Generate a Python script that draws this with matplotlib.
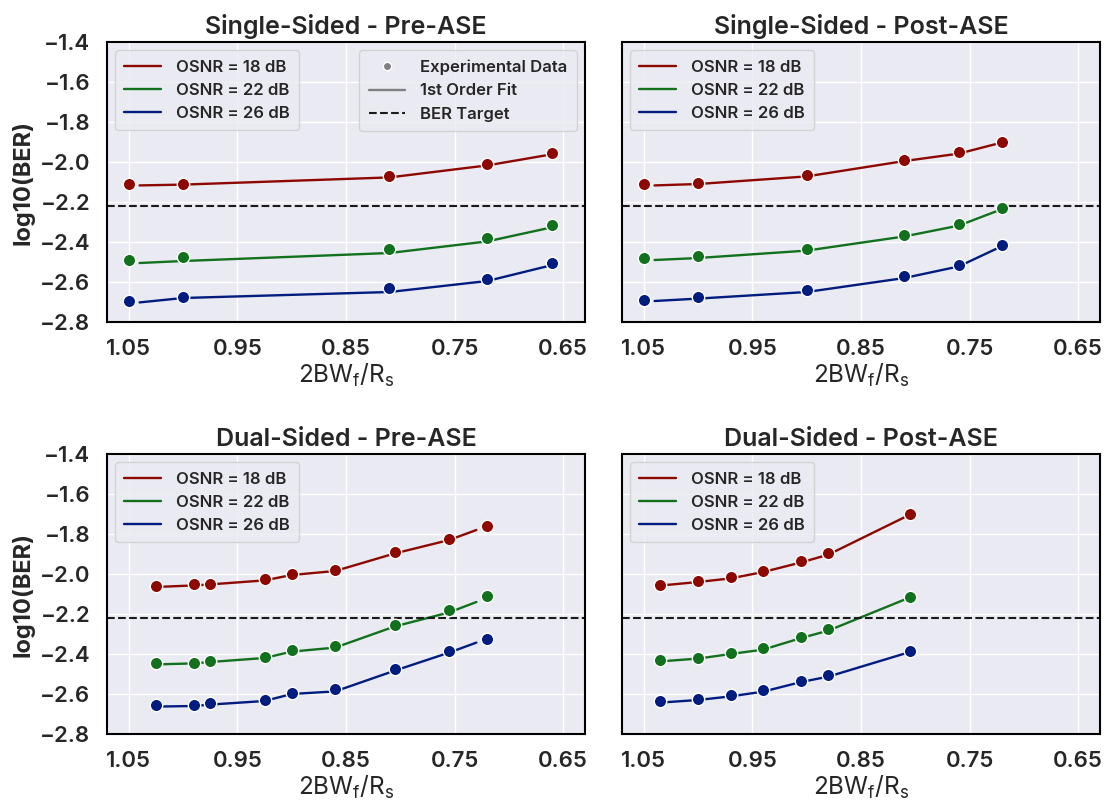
import matplotlib.pyplot as plt
from matplotlib.lines import Line2D
import seaborn as sns
import numpy as np

sns.set_theme(style='darkgrid')
plt.rcParams['font.family'] = ['Inter', 'DejaVu Sans']
plt.rcParams['font.weight'] = 'semibold'

# colours for the three OSNR values (seaborn "dark" palette)
colors = ['#8c0800', '#12711c', '#001c7f']
osnr_labels = ['OSNR = 18 dB', 'OSNR = 22 dB', 'OSNR = 26 dB']
ber_target = -2.222
xticks = [1.05, 0.95, 0.85, 0.75, 0.65]

# ---- Single-Sided - Pre-ASE
ss_pre_x = [1.05, 1.0, 0.81, 0.72, 0.66]
ss_pre_18 = [-2.108, -2.112, -2.072, -2.012, -1.954]
ss_pre_22 = [-2.492, -2.475, -2.437, -2.380, -2.314]
ss_pre_26 = [-2.697, -2.675, -2.628, -2.587, -2.507]
ss_pre_fit_x = [1.04, 1.0, 0.81, 0.72, 0.66]
ss_pre_fit_18 = [-2.117, -2.113, -2.077, -2.017, -1.961]
ss_pre_fit_22 = [-2.505, -2.495, -2.455, -2.397, -2.326]
ss_pre_fit_26 = [-2.702, -2.680, -2.650, -2.595, -2.515]

# ---- Single-Sided - Post-ASE
ss_post_x = [1.05, 1.0, 0.90, 0.81, 0.76, 0.72]
ss_post_18 = [-2.110, -2.103, -2.065, -1.988, -1.952, -1.900]
ss_post_22 = [-2.480, -2.472, -2.435, -2.363, -2.310, -2.232]
ss_post_26 = [-2.688, -2.675, -2.640, -2.572, -2.515, -2.417]
ss_post_fit_x = [1.04, 1.0, 0.90, 0.81, 0.76, 0.72]
ss_post_fit_18 = [-2.117, -2.110, -2.072, -1.995, -1.958, -1.902]
ss_post_fit_22 = [-2.490, -2.480, -2.443, -2.372, -2.318, -2.235]
ss_post_fit_26 = [-2.695, -2.683, -2.650, -2.580, -2.522, -2.420]

# ---- Dual-Sided - Pre-ASE
ds_pre_x = [1.025, 0.99, 0.975, 0.925, 0.90, 0.86, 0.805, 0.755, 0.72]
ds_pre_18 = [-2.060, -2.052, -2.048, -2.025, -1.998, -1.982, -1.890, -1.825, -1.762]
ds_pre_22 = [-2.445, -2.443, -2.433, -2.413, -2.378, -2.358, -2.253, -2.182, -2.108]
ds_pre_26 = [-2.655, -2.653, -2.645, -2.628, -2.593, -2.577, -2.477, -2.385, -2.325]
ds_pre_fit_x = [1.025, 0.99, 0.975, 0.925, 0.90, 0.86, 0.805, 0.755, 0.73]
ds_pre_fit_18 = [-2.065, -2.057, -2.052, -2.032, -2.005, -1.985, -1.897, -1.830, -1.780]
ds_pre_fit_22 = [-2.452, -2.447, -2.440, -2.420, -2.388, -2.368, -2.262, -2.192, -2.140]
ds_pre_fit_26 = [-2.663, -2.660, -2.653, -2.635, -2.600, -2.587, -2.483, -2.393, -2.343]

# ---- Dual-Sided - Post-ASE
ds_post_x = [1.035, 1.0, 0.97, 0.94, 0.905, 0.88, 0.805]
ds_post_18 = [-2.053, -2.035, -2.017, -1.983, -1.937, -1.897, -1.698]
ds_post_22 = [-2.430, -2.418, -2.395, -2.372, -2.313, -2.277, -2.113]
ds_post_26 = [-2.637, -2.623, -2.607, -2.582, -2.533, -2.507, -2.385]
ds_post_fit_x = [1.035, 1.0, 0.97, 0.94, 0.905, 0.88, 0.805]
ds_post_fit_18 = [-2.058, -2.040, -2.022, -1.990, -1.942, -1.903, -1.703]
ds_post_fit_22 = [-2.437, -2.423, -2.400, -2.378, -2.320, -2.283, -2.117]
ds_post_fit_26 = [-2.643, -2.630, -2.612, -2.588, -2.540, -2.513, -2.390]

panels = [
    ('Single-Sided - Pre-ASE', ss_pre_x, [ss_pre_18, ss_pre_22, ss_pre_26],
     ss_pre_fit_x, [ss_pre_fit_18, ss_pre_fit_22, ss_pre_fit_26]),
    ('Single-Sided - Post-ASE', ss_post_x, [ss_post_18, ss_post_22, ss_post_26],
     ss_post_fit_x, [ss_post_fit_18, ss_post_fit_22, ss_post_fit_26]),
    ('Dual-Sided - Pre-ASE', ds_pre_x, [ds_pre_18, ds_pre_22, ds_pre_26],
     ds_pre_fit_x, [ds_pre_fit_18, ds_pre_fit_22, ds_pre_fit_26]),
    ('Dual-Sided - Post-ASE', ds_post_x, [ds_post_18, ds_post_22, ds_post_26],
     ds_post_fit_x, [ds_post_fit_18, ds_post_fit_22, ds_post_fit_26]),
]

fig = plt.figure(figsize=(11.04, 8.02), dpi=100)
positions = [
    [0.0969, 0.5985, 0.4330, 0.3491],
    [0.5634, 0.5985, 0.4330, 0.3491],
    [0.0969, 0.0848, 0.4330, 0.3491],
    [0.5634, 0.0848, 0.4330, 0.3491],
]

for i, (title, x, ys, fx, fys) in enumerate(panels):
    ax = fig.add_axes(positions[i])
    handles = []
    for y, fy, c, lab in zip(ys, fys, colors, osnr_labels):
        h, = ax.plot(fx, fy, color=c, lw=1.7, label=lab, zorder=2)
        ax.scatter(x, y, s=80, color=c, edgecolor='white', linewidth=1, zorder=3)
        handles.append(h)
    ax.axhline(ber_target, color='k', ls='--', lw=1.5, zorder=2)

    ax.set_xlim(1.07, 0.63)
    ax.set_ylim(-2.8, -1.4)
    ax.set_xticks(xticks)
    ax.set_yticks(np.round(np.arange(-2.8, -1.39, 0.2), 1))
    ax.tick_params(labelsize=16, pad=6)
    for s in ax.spines.values():
        s.set_visible(True)
        s.set_color('black')
        s.set_linewidth(1.5)
    ax.set_title(title, fontsize=18, fontweight='semibold', pad=6)
    ax.set_xlabel(r'2BW$_\mathregular{f}$/R$_\mathregular{s}$', fontsize=17.5, labelpad=2)
    if i % 2 == 0:
        ax.set_ylabel('log10(BER)', fontsize=17, fontweight='bold', labelpad=4)
    else:
        ax.set_yticklabels([])

    leg1 = ax.legend(handles=handles, loc='upper left', fontsize=12, borderpad=0.55,
                     handlelength=2.2, handletextpad=0.9)
    if i == 0:
        extra = [
            Line2D([], [], color='grey', marker='o', ls='none', markersize=6,
                   markeredgecolor='white', label='Experimental Data'),
            Line2D([], [], color='grey', lw=1.7, label='1st Order Fit'),
            Line2D([], [], color='k', ls='--', lw=1.5, label='BER Target'),
        ]
        ax.add_artist(leg1)
        ax.legend(handles=extra, loc='upper right', fontsize=12, borderpad=0.55,
                  handlelength=2.2, handletextpad=0.9)

fig.savefig('out.png', dpi=100)
